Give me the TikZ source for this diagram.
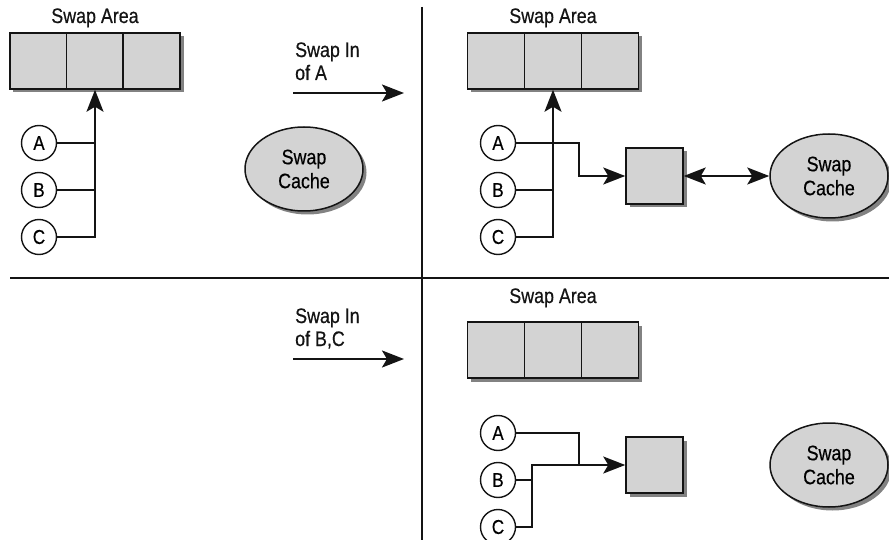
\documentclass[tikz,border=0pt]{standalone}
\usepackage{fontspec}
\setmainfont{Liberation Sans}[FakeStretch=0.85,FakeBold=0.5]
\usetikzlibrary{arrows.meta,shapes.geometric,shadows}
\definecolor{boxgray}{RGB}{211,211,211}
\definecolor{shadowgray}{RGB}{130,130,130}
\definecolor{ink}{RGB}{20,20,20}
\begin{document}
\begin{tikzpicture}[x=1pt,y=-1pt,
  shade3/.style={drop shadow={shadow xshift=3.5pt,shadow yshift=-3.5pt,fill=shadowgray,opacity=1}},
  cell/.style={draw=ink,line width=1.5pt,fill=boxgray,minimum width=57pt,minimum height=56pt,inner sep=0pt,shade3},
  sqbox/.style={cell},
  letter/.style={circle,draw=ink,line width=1.4pt,minimum size=35pt,inner sep=0pt,font=\fontsize{20}{22}\selectfont},
  cache/.style={ellipse,draw=ink,line width=1.5pt,fill=boxgray,minimum width=118pt,minimum height=84pt,inner sep=0pt,align=center,font=\fontsize{21}{24}\selectfont,shade3},
  lbl/.style={inner sep=0pt,font=\fontsize{21}{23}\selectfont,text=ink},
  conn/.style={draw=ink,line width=2pt},
  arrowtip/.style={-{Stealth[length=22pt,width=17pt,inset=5pt]}},
  bigarrow/.style={draw=ink,line width=2.3pt,-{Stealth[length=22pt,width=17pt,inset=5pt]}},
  divider/.style={draw=ink,line width=1.5pt}
]
\useasboundingbox (0,0) rectangle (889,540);

% dividers
\coordinate (hl) at (10,278);
\coordinate (hr) at (889,278);
\coordinate (vt) at (422,7);
\coordinate (vb) at (422,540);
\draw[divider] (hl) -- (hr);
\draw[divider] (vt) -- (vb);

% ---------- top left ----------
\node[lbl,anchor=base] (t1) at (95,23) {Swap Area};
\node[cell] (a1) at (38.3,61) {};
\node[cell] (a2) at (95,61) {};
\node[cell] (a3) at (151.7,61) {};
\node[letter] (ca) at (39,143) {A};
\node[letter] (cb) at (39,190) {B};
\node[letter] (cc) at (39,237) {C};
\draw[conn] (ca) -- (ca -| a2);
\draw[conn] (cb) -- (cb -| a2);
\draw[conn,arrowtip] (cc) -| (a2.south);
\node[cache] (sc1) at (304,169) {Swap\\Cache};

\node[lbl,anchor=base west] (m1) at (295,57) {Swap In};
\node[lbl,anchor=base west] (m2) at (295,80) {of A};
\coordinate (s1) at (293,93);
\coordinate (e1) at (404,93);
\draw[bigarrow] (s1) -- (e1);

% ---------- top right ----------
\node[lbl,anchor=base] (t2) at (553,23) {Swap Area};
\node[cell] (b1) at (496,61) {};
\node[cell] (b2) at (553,61) {};
\node[cell] (b3) at (610,61) {};
\node[letter] (ca2) at (498,143) {A};
\node[letter] (cb2) at (498,190) {B};
\node[letter] (cc2) at (498,237) {C};
\node[sqbox] (sq1) at (654.5,176) {};
\node[cache] (sc2) at (829,176) {Swap\\Cache};
\coordinate (j1) at (579,143);
\draw[conn] (cb2) -- (cb2 -| b2);
\draw[conn,arrowtip] (cc2) -| (b2.south);
\draw[conn,arrowtip] (ca2) -- (j1) |- (sq1);
\draw[conn,{Stealth[length=22pt,width=17pt,inset=5pt]}-{Stealth[length=22pt,width=17pt,inset=5pt]}] (sq1) -- (sc2);

% ---------- bottom ----------
\node[lbl,anchor=base west] (m3) at (295,323) {Swap In};
\node[lbl,anchor=base west] (m4) at (295,346) {of B,C};
\coordinate (s2) at (293,359);
\coordinate (e2) at (404,359);
\draw[bigarrow] (s2) -- (e2);

\node[lbl,anchor=base] (t3) at (553,303) {Swap Area};
\node[cell] (d1) at (496,350) {};
\node[cell] (d2) at (553,350) {};
\node[cell] (d3) at (610,350) {};
\node[letter] (ca3) at (498,433) {A};
\node[letter] (cb3) at (498,480) {B};
\node[letter] (cc3) at (498,527) {C};
\node[sqbox] (sq2) at (654.5,465) {};
\node[cache] (sc3) at (829,465) {Swap\\Cache};
\coordinate (j2) at (579,433);
\coordinate (j3) at (532,465);
\draw[conn] (cb3) -| (j3) -- (j3 -| j2);
\draw[conn] (cc3) -| (j3);
\draw[conn,arrowtip] (ca3) -- (j2) |- (sq2);
\end{tikzpicture}
\end{document}
